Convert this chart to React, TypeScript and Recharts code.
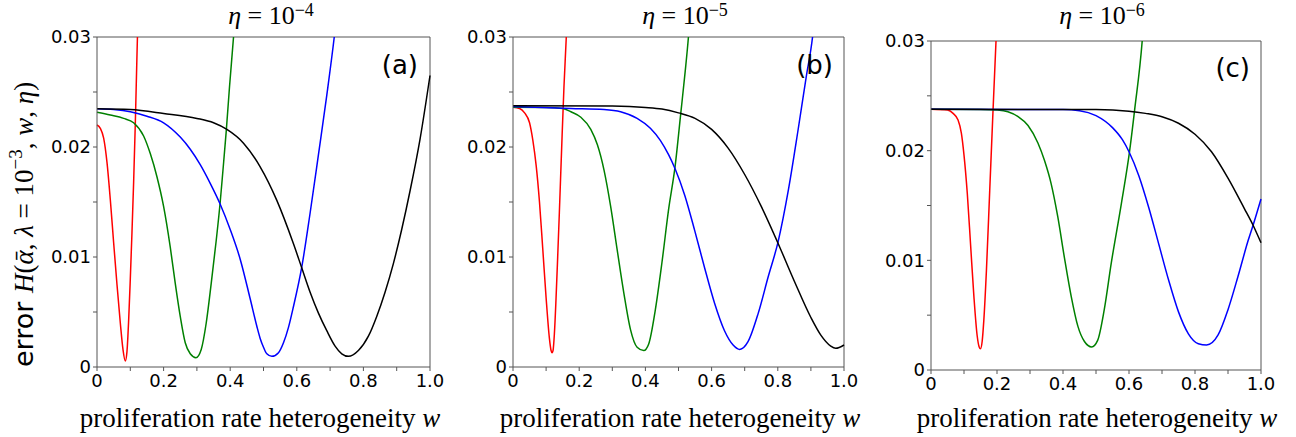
import { LineChart, Line, XAxis, YAxis, ReferenceLine } from 'recharts';

// ticks
const xTicks = [0, 0.1, 0.2, 0.3, 0.4, 0.5, 0.6, 0.7, 0.8, 0.9, 1.0];
const xTickLabels = ['0', '', '0.2', '', '0.4', '', '0.6', '', '0.8', '', '1.0'];
const yTicks = [0, 0.005, 0.01, 0.015, 0.02, 0.025, 0.03];
const yTickLabels = ['0', '', '0.01', '', '0.02', '', '0.03'];

// curves as [w, H] pairs
// eta = 1e-4
const redA = [[0, 0.0220], [0.01, 0.0217], [0.02, 0.0208], [0.03, 0.0186], [0.04, 0.0152], [0.05, 0.0113], [0.06, 0.0075], [0.07, 0.0040], [0.078, 0.0016], [0.085, 0.00055], [0.09, 0.0014], [0.095, 0.0042], [0.1, 0.0080], [0.105, 0.0122], [0.11, 0.0168], [0.115, 0.0221], [0.12, 0.0283], [0.124, 0.0330]];
const greenA = [[0, 0.02315], [0.04, 0.0229], [0.08, 0.0226], [0.11, 0.0222], [0.14, 0.0210], [0.16, 0.0194], [0.18, 0.0173], [0.2, 0.0146], [0.22, 0.0109], [0.235, 0.0076], [0.25, 0.0046], [0.265, 0.0022], [0.28, 0.0012], [0.297, 0.00085], [0.313, 0.0016], [0.328, 0.0040], [0.343, 0.0076], [0.358, 0.0115], [0.37, 0.0150], [0.378, 0.0178], [0.388, 0.0214], [0.398, 0.0255], [0.41, 0.0300], [0.416, 0.0325]];
const blueA = [[0, 0.02347], [0.05, 0.0234], [0.1, 0.0232], [0.15, 0.0228], [0.2, 0.0222], [0.25, 0.0209], [0.28, 0.0198], [0.31, 0.0184], [0.34, 0.0167], [0.37, 0.0148], [0.4, 0.0125], [0.43, 0.0098], [0.46, 0.0062], [0.48, 0.0037], [0.49, 0.0026], [0.5, 0.0018], [0.51, 0.0012], [0.525, 0.00097], [0.545, 0.0013], [0.56, 0.0022], [0.575, 0.0036], [0.59, 0.0055], [0.615, 0.0091], [0.64, 0.0140], [0.665, 0.0193], [0.69, 0.0247], [0.7125, 0.0300], [0.72, 0.0320]];
const blackA = [[0, 0.02347], [0.1, 0.0234], [0.2, 0.02305], [0.3, 0.0226], [0.35, 0.0222], [0.39, 0.0216], [0.44, 0.02035], [0.49, 0.0182], [0.54, 0.01515], [0.59, 0.0112], [0.615, 0.0090], [0.64, 0.0068], [0.665, 0.0049], [0.69, 0.0033], [0.715, 0.0019], [0.735, 0.0012], [0.755, 0.00097], [0.785, 0.0015], [0.815, 0.0028], [0.84, 0.0046], [0.865, 0.0068], [0.89, 0.0094], [0.915, 0.0125], [0.94, 0.0160], [0.97, 0.0207], [1.0, 0.0265]];

// eta = 1e-5
const redB = [[0, 0.02362], [0.02, 0.0235], [0.035, 0.0231], [0.05, 0.0222], [0.06, 0.0206], [0.07, 0.0183], [0.08, 0.0150], [0.09, 0.0107], [0.1, 0.0063], [0.11, 0.0026], [0.115, 0.0015], [0.118, 0.0013], [0.121, 0.0015], [0.125, 0.0030], [0.13, 0.0062], [0.135, 0.0100], [0.14, 0.0140], [0.147, 0.0199], [0.154, 0.0255], [0.161, 0.0300], [0.165, 0.0330]];
const greenB = [[0, 0.02362], [0.1, 0.0236], [0.15, 0.0235], [0.175, 0.0232], [0.205, 0.0227], [0.235, 0.0216], [0.255, 0.0202], [0.275, 0.0179], [0.295, 0.0146], [0.315, 0.0106], [0.335, 0.0067], [0.355, 0.0034], [0.375, 0.0018], [0.395, 0.0015], [0.41, 0.0021], [0.43, 0.0052], [0.45, 0.0095], [0.47, 0.0143], [0.49, 0.0183], [0.507, 0.0231], [0.52, 0.0268], [0.53, 0.0300], [0.535, 0.0320]];
const blueB = [[0, 0.02369], [0.175, 0.0235], [0.275, 0.0234], [0.325, 0.0232], [0.375, 0.0226], [0.415, 0.0217], [0.445, 0.0206], [0.47, 0.0193], [0.49, 0.0180], [0.519, 0.0156], [0.549, 0.0124], [0.579, 0.0090], [0.609, 0.0058], [0.639, 0.0033], [0.665, 0.0020], [0.685, 0.0016], [0.71, 0.0023], [0.741, 0.0049], [0.771, 0.0082], [0.801, 0.0114], [0.832, 0.0161], [0.861, 0.0215], [0.886, 0.0264], [0.905, 0.0300], [0.912, 0.0320]];
const blackB = [[0, 0.02375], [0.3, 0.02372], [0.4, 0.0236], [0.45, 0.02345], [0.5, 0.0231], [0.55, 0.0226], [0.6, 0.0216], [0.65, 0.0199], [0.7, 0.0175], [0.75, 0.0146], [0.8, 0.0113], [0.85, 0.0078], [0.9, 0.0045], [0.93, 0.0029], [0.96, 0.0019], [0.975, 0.0017], [1.0, 0.0020]];

// eta = 1e-6
const redC = [[0, 0.02378], [0.05, 0.0237], [0.067, 0.0234], [0.082, 0.0228], [0.092, 0.0216], [0.1, 0.0196], [0.11, 0.0161], [0.12, 0.0114], [0.13, 0.0067], [0.14, 0.0031], [0.146, 0.0021], [0.15, 0.00194], [0.155, 0.0026], [0.16, 0.0045], [0.168, 0.0091], [0.178, 0.0164], [0.188, 0.0237], [0.197, 0.0300], [0.2, 0.0320]];
const greenC = [[0, 0.02378], [0.15, 0.02376], [0.2, 0.0237], [0.233, 0.02355], [0.264, 0.0231], [0.294, 0.0223], [0.324, 0.0207], [0.344, 0.0191], [0.364, 0.0170], [0.384, 0.0140], [0.404, 0.0103], [0.425, 0.0067], [0.445, 0.0040], [0.465, 0.0026], [0.487, 0.0021], [0.505, 0.0027], [0.525, 0.0055], [0.546, 0.0097], [0.577, 0.0152], [0.602, 0.0200], [0.617, 0.0237], [0.64, 0.0300], [0.645, 0.0320]];
const blueC = [[0, 0.02378], [0.4, 0.02375], [0.45, 0.02365], [0.5, 0.0232], [0.55, 0.0221], [0.58, 0.0210], [0.6, 0.0199], [0.63, 0.0177], [0.66, 0.0148], [0.69, 0.0115], [0.72, 0.0082], [0.75, 0.0053], [0.78, 0.0033], [0.81, 0.0024], [0.835, 0.00228], [0.87, 0.0032], [0.9, 0.0055], [0.93, 0.0085], [0.961, 0.0118], [0.976, 0.0132], [1.0, 0.0156]];
const blackC = [[0, 0.02378], [0.5, 0.02375], [0.6, 0.0236], [0.65, 0.0234], [0.7, 0.0231], [0.75, 0.0225], [0.8, 0.0215], [0.85, 0.0199], [0.9, 0.0175], [0.95, 0.0147], [0.976, 0.0132], [1.0, 0.0116]];

const colors = ['#ff0000', '#008000', '#0000ff', '#000000'];

const panels = [
  { tag: '(a)', exp: '−4', left: 0, width: 460, pl: 97, pr: 430, pt: 37, pb: 367, curves: [redA, greenA, blueA, blackA], titleX: 271, labelX: 260, tagX: 418, tagY: 74 },
  { tag: '(b)', exp: '−5', left: 440, width: 440, pl: 513, pr: 844, pt: 37, pb: 367, curves: [redB, greenB, blueB, blackB], titleX: 685, labelX: 680, tagX: 833, tagY: 74 },
  { tag: '(c)', exp: '−6', left: 860, width: 436, pl: 931, pr: 1261, pt: 41, pb: 370, curves: [redC, greenC, blueC, blackC], titleX: 1102, labelX: 1097, tagX: 1250, tagY: 77 },
];

const toRows = (pts: number[][]) => pts.map(([w, h]) => ({ w, h }));
const fmt = (ticks: number[], labels: string[]) => (v: number) => {
  const i = ticks.findIndex((t) => Math.abs(t - v) < 1e-9);
  return i < 0 ? '' : labels[i];
};

const spine = '#555';
const tickFont = { fontFamily: 'DejaVu Sans', fontSize: 18, fill: '#000' };

function Panel({ p }: { p: (typeof panels)[number] }) {
  const margin = {
    top: p.pt,
    left: p.pl - p.left - 60,
    right: p.left + p.width - p.pr,
    bottom: 437 - p.pb - 30,
  };
  return (
    <div style={{ position: 'absolute', left: p.left, top: 0 }}>
      <LineChart width={p.width} height={437} margin={margin}>
        <XAxis
          dataKey="w"
          type="number"
          domain={[0, 1]}
          ticks={xTicks}
          tickFormatter={fmt(xTicks, xTickLabels)}
          height={30}
          tickSize={4}
          tickMargin={3}
          interval={0}
          tick={tickFont}
          stroke={spine}
        />
        <YAxis
          type="number"
          domain={[0, 0.03]}
          allowDataOverflow
          ticks={yTicks}
          tickFormatter={fmt(yTicks, yTickLabels)}
          width={60}
          tickSize={4}
          tickMargin={2}
          interval={0}
          tick={tickFont}
          stroke={spine}
        />
        <ReferenceLine y={0.03} stroke={spine} strokeWidth={1} />
        <ReferenceLine x={1} stroke={spine} strokeWidth={1} />
        {p.curves.map((c, i) => (
          <Line
            key={i}
            data={toRows(c)}
            dataKey="h"
            type="monotone"
            stroke={colors[i]}
            strokeWidth={1.5}
            dot={false}
            activeDot={false}
            isAnimationActive={false}
          />
        ))}
      </LineChart>
    </div>
  );
}

export default function App() {
  const serif = 'Liberation Serif';
  return (
    <div style={{ position: 'absolute', left: 0, top: 0, width: 1296, height: 437, background: '#fff' }}>
      {panels.map((p) => (
        <Panel key={p.tag} p={p} />
      ))}
      <svg width={1296} height={437} style={{ position: 'absolute', left: 0, top: 0, pointerEvents: 'none' }}>
        {panels.map((p) => (
          <g key={p.tag}>
            <text x={p.titleX} y={24} textAnchor="middle" fontFamily={serif} fontSize={26}>
              <tspan fontStyle="italic">η</tspan>
              <tspan> = 10</tspan>
              <tspan dy={-8} fontSize={18}>{p.exp}</tspan>
            </text>
            <text x={p.labelX} y={427} textAnchor="middle" fontFamily={serif} fontSize={27}>
              proliferation rate heterogeneity <tspan fontStyle="italic">w</tspan>
            </text>
            <text x={p.tagX} y={p.tagY} textAnchor="end" fontFamily="DejaVu Sans" fontSize={26}>
              {p.tag}
            </text>
          </g>
        ))}
        <text transform="translate(33,367) rotate(-90)" fontSize={27}>
          <tspan fontFamily="DejaVu Sans">error </tspan>
          <tspan fontFamily={serif} fontStyle="italic">H</tspan>
          <tspan fontFamily={serif}>(</tspan>
          <tspan fontFamily={serif} fontStyle="italic">ᾱ</tspan>
          <tspan fontFamily={serif}>, </tspan>
          <tspan fontFamily={serif} fontStyle="italic">λ</tspan>
          <tspan fontFamily={serif}> = 10</tspan>
          <tspan fontFamily={serif} fontSize={19} dy={-11}>−3</tspan>
          <tspan fontFamily={serif} dy={11}>, </tspan>
          <tspan fontFamily={serif} fontStyle="italic">w</tspan>
          <tspan fontFamily={serif}>, </tspan>
          <tspan fontFamily={serif} fontStyle="italic">η</tspan>
          <tspan fontFamily={serif}>)</tspan>
        </text>
      </svg>
    </div>
  );
}
